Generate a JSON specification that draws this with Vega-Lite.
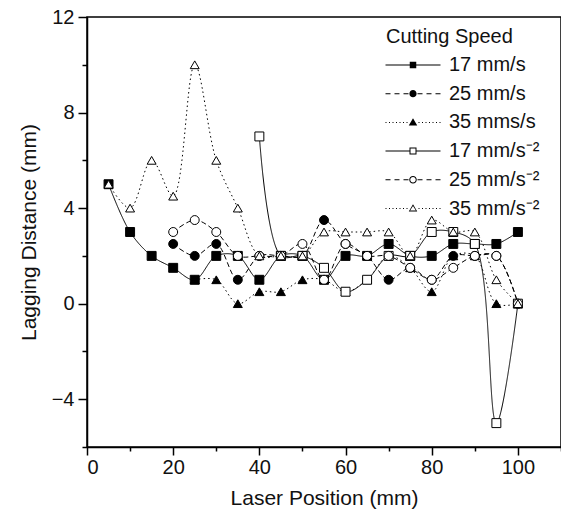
{
  "$schema": "https://vega.github.io/schema/vega-lite/v6.json",
  "width": 474,
  "height": 430,
  "autosize": {"type": "none"},
  "padding": {"left": 87, "top": 17, "right": 0, "bottom": 78},
  "background": "white",
  "resolve": {"axis": {"x": "independent", "y": "independent"}, "scale": {"shape": "independent"}},
  "config": {
    "view": {"stroke": "black", "strokeWidth": 1.5},
    "font": "Liberation Sans",
    "axis": {
      "grid": false,
      "domainColor": "black",
      "tickColor": "black",
      "labelColor": "#111111",
      "titleColor": "#111111",
      "labelFont": "Liberation Sans",
      "titleFont": "Liberation Sans",
      "labelFontSize": 20,
      "titleFontSize": 21,
      "titleFontWeight": "normal",
      "domainWidth": 1.5,
      "tickWidth": 1.5
    },
    "legend": {
      "labelFont": "Liberation Sans",
      "titleFont": "Liberation Sans",
      "labelColor": "#111111",
      "titleColor": "#111111"
    }
  },
  "data": {
    "values": [
      {"s": "17 mm/s", "x": 5, "y": 5}, {"s": "17 mm/s", "x": 10, "y": 3}, {"s": "17 mm/s", "x": 15, "y": 2}, {"s": "17 mm/s", "x": 20, "y": 1.5}, {"s": "17 mm/s", "x": 25, "y": 1}, {"s": "17 mm/s", "x": 30, "y": 2}, {"s": "17 mm/s", "x": 35, "y": 2}, {"s": "17 mm/s", "x": 40, "y": 1}, {"s": "17 mm/s", "x": 45, "y": 2}, {"s": "17 mm/s", "x": 50, "y": 2}, {"s": "17 mm/s", "x": 55, "y": 1}, {"s": "17 mm/s", "x": 60, "y": 2}, {"s": "17 mm/s", "x": 65, "y": 2}, {"s": "17 mm/s", "x": 70, "y": 2.5}, {"s": "17 mm/s", "x": 75, "y": 2}, {"s": "17 mm/s", "x": 80, "y": 2}, {"s": "17 mm/s", "x": 85, "y": 2.5}, {"s": "17 mm/s", "x": 90, "y": 2.5}, {"s": "17 mm/s", "x": 95, "y": 2.5}, {"s": "17 mm/s", "x": 100, "y": 3},
      {"s": "25 mm/s", "x": 20, "y": 2.5}, {"s": "25 mm/s", "x": 25, "y": 2}, {"s": "25 mm/s", "x": 30, "y": 2.5}, {"s": "25 mm/s", "x": 35, "y": 1}, {"s": "25 mm/s", "x": 40, "y": 2}, {"s": "25 mm/s", "x": 45, "y": 2}, {"s": "25 mm/s", "x": 50, "y": 2}, {"s": "25 mm/s", "x": 55, "y": 3.5}, {"s": "25 mm/s", "x": 60, "y": 2.5}, {"s": "25 mm/s", "x": 65, "y": 2}, {"s": "25 mm/s", "x": 70, "y": 1}, {"s": "25 mm/s", "x": 75, "y": 1.5}, {"s": "25 mm/s", "x": 80, "y": 1}, {"s": "25 mm/s", "x": 85, "y": 2}, {"s": "25 mm/s", "x": 90, "y": 2}, {"s": "25 mm/s", "x": 95, "y": 2}, {"s": "25 mm/s", "x": 100, "y": 0},
      {"s": "35 mms/s", "x": 25, "y": 1}, {"s": "35 mms/s", "x": 30, "y": 1}, {"s": "35 mms/s", "x": 35, "y": 0}, {"s": "35 mms/s", "x": 40, "y": 0.5}, {"s": "35 mms/s", "x": 45, "y": 0.5}, {"s": "35 mms/s", "x": 50, "y": 1}, {"s": "35 mms/s", "x": 55, "y": 1}, {"s": "35 mms/s", "x": 60, "y": 0.5}, {"s": "35 mms/s", "x": 65, "y": 1}, {"s": "35 mms/s", "x": 70, "y": 2}, {"s": "35 mms/s", "x": 75, "y": 1.5}, {"s": "35 mms/s", "x": 80, "y": 0.5}, {"s": "35 mms/s", "x": 85, "y": 2}, {"s": "35 mms/s", "x": 90, "y": 2}, {"s": "35 mms/s", "x": 95, "y": 0}, {"s": "35 mms/s", "x": 100, "y": 0},
      {"s": "17 mm/s⁻²", "x": 40, "y": 7}, {"s": "17 mm/s⁻²", "x": 45, "y": 2}, {"s": "17 mm/s⁻²", "x": 50, "y": 2}, {"s": "17 mm/s⁻²", "x": 55, "y": 1.5}, {"s": "17 mm/s⁻²", "x": 60, "y": 0.5}, {"s": "17 mm/s⁻²", "x": 65, "y": 1}, {"s": "17 mm/s⁻²", "x": 70, "y": 2}, {"s": "17 mm/s⁻²", "x": 75, "y": 2}, {"s": "17 mm/s⁻²", "x": 80, "y": 3}, {"s": "17 mm/s⁻²", "x": 85, "y": 3}, {"s": "17 mm/s⁻²", "x": 90, "y": 2.5}, {"s": "17 mm/s⁻²", "x": 95, "y": -5}, {"s": "17 mm/s⁻²", "x": 100, "y": 0},
      {"s": "25 mm/s⁻²", "x": 20, "y": 3}, {"s": "25 mm/s⁻²", "x": 25, "y": 3.5}, {"s": "25 mm/s⁻²", "x": 30, "y": 3}, {"s": "25 mm/s⁻²", "x": 35, "y": 2}, {"s": "25 mm/s⁻²", "x": 40, "y": 2}, {"s": "25 mm/s⁻²", "x": 45, "y": 2}, {"s": "25 mm/s⁻²", "x": 50, "y": 2.5}, {"s": "25 mm/s⁻²", "x": 55, "y": 1}, {"s": "25 mm/s⁻²", "x": 60, "y": 2.5}, {"s": "25 mm/s⁻²", "x": 65, "y": 2}, {"s": "25 mm/s⁻²", "x": 70, "y": 2}, {"s": "25 mm/s⁻²", "x": 75, "y": 1.5}, {"s": "25 mm/s⁻²", "x": 80, "y": 1}, {"s": "25 mm/s⁻²", "x": 85, "y": 1.5}, {"s": "25 mm/s⁻²", "x": 90, "y": 2}, {"s": "25 mm/s⁻²", "x": 95, "y": 2}, {"s": "25 mm/s⁻²", "x": 100, "y": 0},
      {"s": "35 mm/s⁻²", "x": 5, "y": 5}, {"s": "35 mm/s⁻²", "x": 10, "y": 4}, {"s": "35 mm/s⁻²", "x": 15, "y": 6}, {"s": "35 mm/s⁻²", "x": 20, "y": 4.5}, {"s": "35 mm/s⁻²", "x": 25, "y": 10}, {"s": "35 mm/s⁻²", "x": 30, "y": 6}, {"s": "35 mm/s⁻²", "x": 35, "y": 4}, {"s": "35 mm/s⁻²", "x": 40, "y": 2}, {"s": "35 mm/s⁻²", "x": 45, "y": 2}, {"s": "35 mm/s⁻²", "x": 50, "y": 2}, {"s": "35 mm/s⁻²", "x": 55, "y": 3}, {"s": "35 mm/s⁻²", "x": 60, "y": 3}, {"s": "35 mm/s⁻²", "x": 65, "y": 3}, {"s": "35 mm/s⁻²", "x": 70, "y": 3}, {"s": "35 mm/s⁻²", "x": 75, "y": 2}, {"s": "35 mm/s⁻²", "x": 80, "y": 3.5}, {"s": "35 mm/s⁻²", "x": 85, "y": 3}, {"s": "35 mm/s⁻²", "x": 90, "y": 3}, {"s": "35 mm/s⁻²", "x": 95, "y": 1}, {"s": "35 mm/s⁻²", "x": 100, "y": 0}
    ]
  },
  "layer": [
    {
      "mark": {"type": "line", "interpolate": "catmull-rom", "strokeWidth": 1, "color": "black"},
      "encoding": {
        "x": {"field": "x", "type": "quantitative", "scale": {"domain": [0, 110], "nice": false, "zero": false},
              "axis": {"orient": "bottom", "values": [10, 30, 50, 70, 90, 110], "labels": false, "domain": false, "tickSize": 4, "title": null}},
        "y": {"field": "y", "type": "quantitative", "scale": {"domain": [-6, 12], "nice": false, "zero": false},
              "axis": {"orient": "left", "values": [-6, -2, 2, 6, 10], "labels": false, "domain": false, "tickSize": 5, "title": null}},
        "detail": {"field": "s", "type": "nominal"},
        "strokeDash": {
          "condition": [
            {"test": "indexof(['25 mm/s','25 mm/s⁻²'], datum.s) >= 0", "value": [5, 3]},
            {"test": "indexof(['35 mms/s','35 mm/s⁻²'], datum.s) >= 0", "value": [1.5, 3]}
          ],
          "value": [1, 0]
        }
      }
    },
    {
      "mark": {"type": "point", "filled": true, "stroke": "black", "strokeWidth": 1, "size": 80, "opacity": 1},
      "encoding": {
        "x": {"field": "x", "type": "quantitative", "scale": {"domain": [0, 110], "nice": false, "zero": false},
              "axis": {"orient": "bottom", "values": [0, 20, 40, 60, 80, 100], "tickSize": 8, "labelPadding": 2, "title": "Laser Position (mm)", "titlePadding": 10}},
        "y": {"field": "y", "type": "quantitative", "scale": {"domain": [-6, 12], "nice": false, "zero": false},
              "axis": {"orient": "left", "values": [-4, 0, 4, 8, 12], "tickSize": 9, "labelPadding": 4, "title": "Lagging Distance (mm)", "titlePadding": 12}},
        "fill": {
          "condition": {"test": "indexof(['17 mm/s','25 mm/s','35 mms/s'], datum.s) >= 0", "value": "black"},
          "value": "white"
        },
        "shape": {"field": "s", "type": "nominal",
          "scale": {"domain": ["17 mm/s", "25 mm/s", "35 mms/s", "17 mm/s⁻²", "25 mm/s⁻²", "35 mm/s⁻²"],
                    "range": ["square", "circle", "triangle-up", "square", "circle", "triangle-up"]},
          "legend": null
        }
      }
    },
    {
      "mark": {"type": "point", "filled": true, "fill": "black", "size": 100, "opacity": 0},
      "encoding": {
        "x": {"field": "x", "type": "quantitative", "scale": {"domain": [0, 110], "nice": false, "zero": false}, "axis": null},
        "y": {"field": "y", "type": "quantitative", "scale": {"domain": [-6, 12], "nice": false, "zero": false}, "axis": null},
        "shape": {"field": "s", "type": "nominal",
          "scale": {"domain": ["17 mm/s", "25 mm/s", "35 mms/s", "17 mm/s⁻²", "25 mm/s⁻²", "35 mm/s⁻²"],
                    "range": [
                      "M-5.5,-0.1H5.5V0.1H-5.5Z M-0.65,-0.65H0.65V0.65H-0.65Z",
                      "M-5.5,-0.1H-4.5V0.1H-5.5Z M-3.7,-0.1H-2.7V0.1H-3.7Z M-1.9,-0.1H-0.9V0.1H-1.9Z M0.9,-0.1H1.9V0.1H0.9Z M2.7,-0.1H3.7V0.1H2.7Z M4.5,-0.1H5.5V0.1H4.5Z M0.72,0A0.72,0.72,0,1,1,-0.72,0A0.72,0.72,0,1,1,0.72,0Z",
                      "M-5.5,-0.1h0.2v0.2h-0.2Z M-4.8,-0.1h0.2v0.2h-0.2Z M-4.1,-0.1h0.2v0.2h-0.2Z M-3.4,-0.1h0.2v0.2h-0.2Z M-2.7,-0.1h0.2v0.2h-0.2Z M-2,-0.1h0.2v0.2h-0.2Z M-1.3,-0.1h0.2v0.2h-0.2Z M1.1,-0.1h0.2v0.2h-0.2Z M1.8,-0.1h0.2v0.2h-0.2Z M2.5,-0.1h0.2v0.2h-0.2Z M3.2,-0.1h0.2v0.2h-0.2Z M3.9,-0.1h0.2v0.2h-0.2Z M4.6,-0.1h0.2v0.2h-0.2Z M5.3,-0.1h0.2v0.2h-0.2Z M0,-0.85L0.85,0.6L-0.85,0.6Z",
                      "M-5.5,-0.1H-0.7V0.1H-5.5Z M0.7,-0.1H5.5V0.1H0.7Z M-0.7,-0.7H0.7V0.7H-0.7Z M-0.5,-0.5V0.5H0.5V-0.5Z",
                      "M-5.5,-0.1H-4.5V0.1H-5.5Z M-3.7,-0.1H-2.7V0.1H-3.7Z M-1.9,-0.1H-0.9V0.1H-1.9Z M0.9,-0.1H1.9V0.1H0.9Z M2.7,-0.1H3.7V0.1H2.7Z M4.5,-0.1H5.5V0.1H4.5Z M0.75,0A0.75,0.75,0,1,1,-0.75,0A0.75,0.75,0,1,1,0.75,0Z M0.55,0A0.55,0.55,0,1,0,-0.55,0A0.55,0.55,0,1,0,0.55,0Z",
                      "M-5.5,-0.1h0.2v0.2h-0.2Z M-4.8,-0.1h0.2v0.2h-0.2Z M-4.1,-0.1h0.2v0.2h-0.2Z M-3.4,-0.1h0.2v0.2h-0.2Z M-2.7,-0.1h0.2v0.2h-0.2Z M-2,-0.1h0.2v0.2h-0.2Z M-1.3,-0.1h0.2v0.2h-0.2Z M1.1,-0.1h0.2v0.2h-0.2Z M1.8,-0.1h0.2v0.2h-0.2Z M2.5,-0.1h0.2v0.2h-0.2Z M3.2,-0.1h0.2v0.2h-0.2Z M3.9,-0.1h0.2v0.2h-0.2Z M4.6,-0.1h0.2v0.2h-0.2Z M5.3,-0.1h0.2v0.2h-0.2Z M0,-0.85L0.85,0.6L-0.85,0.6Z M0,-0.5L-0.58,0.42L0.58,0.42Z"
                    ]},
          "legend": {
            "title": "Cutting Speed", "orient": "none", "legendX": 299, "legendY": 10, "padding": 0,
            "titleFontSize": 20, "titleFontWeight": "normal", "titlePadding": 8, "labelFontSize": 20,
            "symbolSize": 100, "symbolOffset": 17, "labelOffset": 26, "rowPadding": 8.7, "symbolOpacity": 1,
            "symbolFillColor": "black", "symbolStrokeWidth": 0
          }
        }
      }
    }
  ]
}
